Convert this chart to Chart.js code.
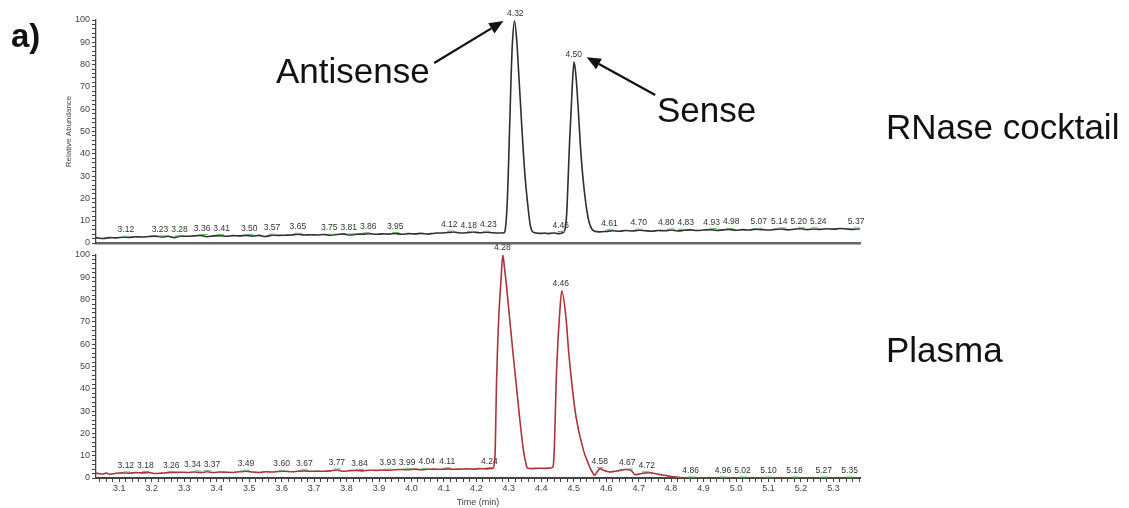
<!DOCTYPE html>
<html>
<head>
<meta charset="utf-8">
<script src="https://cdn.jsdelivr.net/npm/chart.js@4.4.1/dist/chart.umd.min.js"></script>
<style>
html, body { margin: 0; padding: 0; background: #fff; }
#wrap { position: relative; width: 1129px; height: 508px; overflow: hidden; }
#topChart { position: absolute; left: 0; top: 0; }
#bottomChart { position: absolute; left: 0; top: 230px; }
</style>
</head>
<body>
<div id="wrap">
<canvas id="topChart" width="1129" height="508" style="width:1129px;height:508px"></canvas>
<canvas id="bottomChart" width="1129" height="278" style="width:1129px;height:278px"></canvas>
</div>
<script>
// retention time (min), relative abundance
var rnaseTrace = [
  [3.028,2.4],[3.05,2.0],[3.07,2.4],[3.09,2.3],[3.11,2.6],[3.13,2.5],[3.15,2.8],[3.17,2.7],[3.19,2.9],[3.21,3.1],
  [3.23,2.7],[3.25,3.0],[3.27,2.4],[3.29,3.1],[3.31,3.0],[3.33,3.2],[3.35,3.4],[3.37,2.8],[3.39,3.2],[3.41,3.3],
  [3.43,3.0],[3.45,3.3],[3.47,3.2],[3.49,3.4],[3.51,3.1],[3.53,3.4],[3.55,2.9],[3.57,3.5],[3.59,3.4],[3.61,3.5],
  [3.63,3.6],[3.65,3.9],[3.67,3.6],[3.69,3.7],[3.71,3.6],[3.73,3.8],[3.75,3.5],[3.77,3.8],[3.79,4.1],[3.81,3.6],
  [3.83,3.9],[3.85,4.0],[3.87,4.2],[3.89,3.9],[3.91,4.1],[3.93,4.0],[3.95,4.3],[3.97,3.9],[3.99,4.2],[4.01,4.1],
  [4.03,4.3],[4.05,4.0],[4.07,4.4],[4.09,4.5],[4.11,4.7],[4.13,4.9],[4.15,4.5],[4.17,4.6],[4.19,4.9],[4.21,4.6],
  [4.23,4.8],[4.25,4.6],[4.27,4.5],[4.285,4.6],
  [4.289,6.0],[4.294,14.9],[4.298,29.8],[4.301,44.8],[4.304,59.7],[4.307,74.6],[4.311,89.6],[4.3175,99.5],
  [4.325,89.6],[4.331,74.6],[4.337,59.7],[4.343,44.8],[4.350,29.8],[4.360,14.9],[4.366,8],[4.371,5.5],
  [4.38,4.6],[4.39,4.4],[4.40,4.3],[4.41,4.5],[4.42,4.2],[4.43,4.4],[4.44,4.5],[4.45,4.2],[4.46,4.3],[4.467,4.7],[4.471,5.2],
  [4.473,6],[4.476,9],[4.479,14.9],[4.483,29.8],[4.487,44.8],[4.492,59.7],[4.497,74.6],[4.501,81.3],
  [4.507,74.6],[4.514,59.7],[4.520,44.8],[4.528,29.8],[4.540,14.9],[4.548,9],[4.555,6.5],[4.561,5.5],
  [4.58,5.0],[4.60,5.2],[4.62,5.5],[4.64,5.3],[4.66,5.6],[4.68,5.4],[4.70,5.7],[4.72,5.5],[4.74,5.3],[4.76,5.6],
  [4.78,5.5],[4.80,5.8],[4.82,5.4],[4.84,5.7],[4.86,5.9],[4.88,5.6],[4.90,5.8],[4.92,6.0],[4.94,5.6],[4.96,5.9],
  [4.98,6.1],[5.00,5.7],[5.02,6.0],[5.04,5.8],[5.06,6.2],[5.08,6.0],[5.10,5.8],[5.12,6.1],[5.14,6.3],[5.16,5.9],
  [5.18,6.2],[5.20,6.4],[5.22,6.0],[5.24,6.3],[5.26,6.1],[5.28,6.4],[5.30,6.2],[5.32,6.5],[5.34,6.3],[5.36,6.1],[5.382,6.4]
];

var plasmaTrace = [
  [3.028,2.2],[3.05,1.8],[3.06,2.2],[3.07,1.7],[3.09,2.1],[3.11,2.3],[3.13,2.2],[3.15,2.4],[3.17,2.3],[3.19,2.5],
  [3.21,2.0],[3.23,2.2],[3.25,2.4],[3.27,2.5],[3.29,2.6],[3.31,2.5],[3.33,2.7],[3.35,2.4],[3.37,2.8],[3.39,2.4],
  [3.41,2.7],[3.43,2.6],[3.45,2.5],[3.47,2.8],[3.49,3.0],[3.51,2.7],[3.53,2.5],[3.55,2.8],[3.57,2.7],[3.59,2.9],
  [3.61,3.0],[3.63,2.8],[3.65,3.0],[3.67,3.2],[3.69,3.0],[3.71,3.1],[3.73,3.0],[3.75,3.2],[3.77,3.6],[3.79,3.0],
  [3.81,3.3],[3.83,3.4],[3.85,3.2],[3.87,3.5],[3.89,3.4],[3.91,3.6],[3.93,3.5],[3.95,3.7],[3.97,3.8],[3.99,3.7],
  [4.01,4.0],[4.03,3.7],[4.05,3.9],[4.07,4.0],[4.09,3.9],[4.11,4.1],[4.13,3.9],[4.15,4.0],[4.17,4.1],[4.19,4.0],
  [4.21,4.2],[4.23,4.1],[4.245,4.3],[4.252,4.5],
  [4.255,6],[4.258,12.4],[4.260,27.4],[4.262,42.4],[4.265,57.3],[4.269,72.3],[4.2753,87.3],[4.2815,100],
  [4.286,95],[4.292,87.3],[4.302,72.3],[4.312,57.3],[4.3225,42.4],[4.333,27.4],[4.345,12.4],[4.352,7],[4.357,4.5],
  [4.37,4.2],[4.39,4.4],[4.41,4.3],[4.43,4.5],[4.436,5],
  [4.440,12.4],[4.443,27.4],[4.4457,42.4],[4.450,57.3],[4.456,72.3],[4.463,84],
  [4.4758,72.3],[4.484,57.3],[4.494,42.4],[4.507,27.4],[4.530,12.4],[4.545,6.4],[4.552,4.0],[4.558,2.5],
  [4.564,1.2],[4.572,2.8],[4.581,4.2],[4.59,3.6],[4.60,3.0],[4.612,2.7],[4.625,3.0],[4.64,3.3],[4.658,3.8],[4.676,3.5],
  [4.689,1.5],[4.705,1.9],[4.72,2.3],[4.735,2.4],[4.75,2.0],[4.766,1.5],[4.78,1.2],[4.797,0.8],[4.81,0.5],[4.828,0.2],
  [4.84,0],[5.0,0],[5.2,0],[5.382,0]
];

var rnaseLabels = [3.12,3.23,3.28,3.36,3.41,3.50,3.57,3.65,3.75,3.81,3.86,3.95,4.12,4.18,4.23,4.32,4.46,4.50,
                   4.61,4.70,4.80,4.83,4.93,4.98,5.07,5.14,5.20,5.24,5.37];
var plasmaLabels = [3.12,3.18,3.26,3.34,3.37,3.49,3.60,3.67,3.77,3.84,3.93,3.99,4.04,4.11,4.24,4.28,4.46,
                    4.58,4.67,4.72,4.86,4.96,5.02,5.10,5.18,5.27,5.35];

var timeMin = 3.028, timeMax = 5.382;
var FONT = '"Liberation Sans", Arial, sans-serif';
Chart.defaults.font.family = FONT;

// highest point of the trace close to t
function valueNear(trace, t) {
  var best = 0;
  for (var i = 1; i < trace.length; i++) {
    var a = trace[i-1], b = trace[i];
    if (a[0] <= t && b[0] >= t) best = Math.max(best, a[1] + (b[1]-a[1]) * (t-a[0]) / (b[0]-a[0]));
    if (Math.abs(b[0] - t) <= 0.01) best = Math.max(best, b[1]);
  }
  return best;
}

// retention time labels above the trace, spread so they don't overlap
var peakLabels = {
  id: 'peakLabels',
  afterDatasetsDraw: function(chart, args, opts) {
    var ctx = chart.ctx, x = chart.scales.x, y = chart.scales.y;
    ctx.save();
    ctx.font = '8.5px ' + FONT;
    ctx.textAlign = 'center';
    ctx.textBaseline = 'bottom';
    var items = opts.times.map(function(t) {
      var txt = t.toFixed(2);
      return {t: t, txt: txt, w: ctx.measureText(txt).width, px: x.getPixelForValue(t), v: valueNear(opts.trace, t)};
    });
    for (var pass = 0; pass < 30; pass++) {
      for (var i = 1; i < items.length; i++) {
        var a = items[i-1], b = items[i];
        if (a.v > 20 || b.v > 20) continue;
        var need = (a.w + b.w) / 2 + 3;
        var gap = b.px - a.px;
        if (gap < need) { var d = (need - gap) / 2; a.px -= d; b.px += d; }
      }
    }
    items.forEach(function(it) {
      var py = y.getPixelForValue(it.v);
      if (it.v < 20) {
        var gx = x.getPixelForValue(it.t);
        ctx.strokeStyle = '#5cb85c';
        ctx.lineWidth = 1;
        ctx.beginPath(); ctx.moveTo(gx - 3, py - 1); ctx.lineTo(gx + 4, py - 1); ctx.stroke();
      }
      ctx.fillStyle = '#333';
      ctx.fillText(it.txt, it.px, py - 3);
    });
    ctx.restore();
  }
};

function arrow(ctx, x1, y1, x2, y2) {
  var ang = Math.atan2(y2 - y1, x2 - x1), len = 14, hw = 6;
  var bx = x2 - len * Math.cos(ang), by = y2 - len * Math.sin(ang);
  ctx.beginPath(); ctx.moveTo(x1, y1); ctx.lineTo(bx, by); ctx.stroke();
  ctx.beginPath();
  ctx.moveTo(x2, y2);
  ctx.lineTo(bx + hw * Math.sin(ang), by - hw * Math.cos(ang));
  ctx.lineTo(bx - hw * Math.sin(ang), by + hw * Math.cos(ang));
  ctx.closePath(); ctx.fill();
}

var notes = {
  id: 'notes',
  afterDraw: function(chart) {
    var ctx = chart.ctx, x = chart.scales.x, y = chart.scales.y;
    ctx.save();
    ctx.fillStyle = '#111';
    ctx.strokeStyle = '#111';
    ctx.lineWidth = 2.2;
    ctx.textBaseline = 'alphabetic';
    ctx.textAlign = 'left';
    ctx.font = 'bold 33px ' + FONT;
    ctx.fillText('a)', 11, 47);
    ctx.font = '35px ' + FONT;
    ctx.fillText('Antisense', 276, 83);
    ctx.fillText('Sense', 657, 122);
    ctx.fillText('RNase cocktail', 886, 139);
    ctx.fillText('Plasma', 886, 362);
    arrow(ctx, x.getPixelForValue(4.07), y.getPixelForValue(80.7), x.getPixelForValue(4.283), y.getPixelForValue(99.5));
    arrow(ctx, x.getPixelForValue(4.751), y.getPixelForValue(66.4), x.getPixelForValue(4.540), y.getPixelForValue(83.3));
    ctx.restore();
  }
};

function yAxis(withTitle) {
  return {
    min: 0, max: 100,
    afterFit: function(s) { s.width = 32; },
    ticks: {
      stepSize: 2, maxTicksLimit: 60, autoSkip: false, padding: 2,
      color: '#444', font: {size: 9},
      callback: function(v) { return v % 10 === 0 ? v : ''; }
    },
    grid: { drawOnChartArea: false, tickLength: 4, color: '#444' },
    border: { color: '#444', width: 1.3 },
    title: { display: withTitle, text: 'Relative Abundance', color: '#444', font: {size: 8}, padding: 0 }
  };
}

function traceData(trace) {
  return trace.map(function(p) { return {x: p[0], y: p[1]}; });
}

new Chart(document.getElementById('topChart'), {
  type: 'scatter',
  data: { datasets: [{ data: traceData(rnaseTrace), showLine: true, borderColor: '#2e2e2e', borderWidth: 1.6,
                       pointRadius: 0, cubicInterpolationMode: 'monotone' }] },
  options: {
    responsive: false, animation: false,
    layout: { padding: { left: 64, right: 269, top: 20, bottom: 258 } },
    plugins: { legend: {display: false}, tooltip: {enabled: false},
               peakLabels: { times: rnaseLabels, trace: rnaseTrace } },
    scales: {
      x: { type: 'linear', min: timeMin, max: timeMax,
           afterFit: function(s) { s.height = 7; },
           ticks: { display: false }, grid: { display: false },
           border: { color: '#666', width: 2.5 } },
      y: yAxis(true)
    }
  },
  plugins: [peakLabels, notes]
});

new Chart(document.getElementById('bottomChart'), {
  type: 'scatter',
  data: { datasets: [{ data: traceData(plasmaTrace), showLine: true, borderColor: '#a9343a', borderWidth: 1.6,
                       pointRadius: 0, cubicInterpolationMode: 'monotone' }] },
  options: {
    responsive: false, animation: false,
    layout: { padding: { left: 64, right: 269, top: 25, bottom: 0 } },
    plugins: { legend: {display: false}, tooltip: {enabled: false},
               peakLabels: { times: plasmaLabels, trace: plasmaTrace } },
    scales: {
      x: { type: 'linear', min: timeMin, max: timeMax,
           afterFit: function(s) { s.height = 30; },
           afterBuildTicks: function(s) {
             var t = [];
             for (var k = Math.ceil(timeMin * 50); k <= Math.floor(timeMax * 50); k++) t.push({value: k / 50});
             s.ticks = t;
           },
           ticks: { autoSkip: false, maxRotation: 0, padding: 1, color: '#444', font: {size: 9},
                    callback: function(v) { return Math.round(v * 50) % 5 === 0 ? v.toFixed(1) : ''; } },
           grid: { drawOnChartArea: false, tickLength: 4, color: '#444' },
           border: { color: '#444', width: 2 },
           title: { display: true, text: 'Time (min)', color: '#444', font: {size: 9}, padding: 0 } },
      y: yAxis(false)
    }
  },
  plugins: [peakLabels]
});
</script>
</body>
</html>
